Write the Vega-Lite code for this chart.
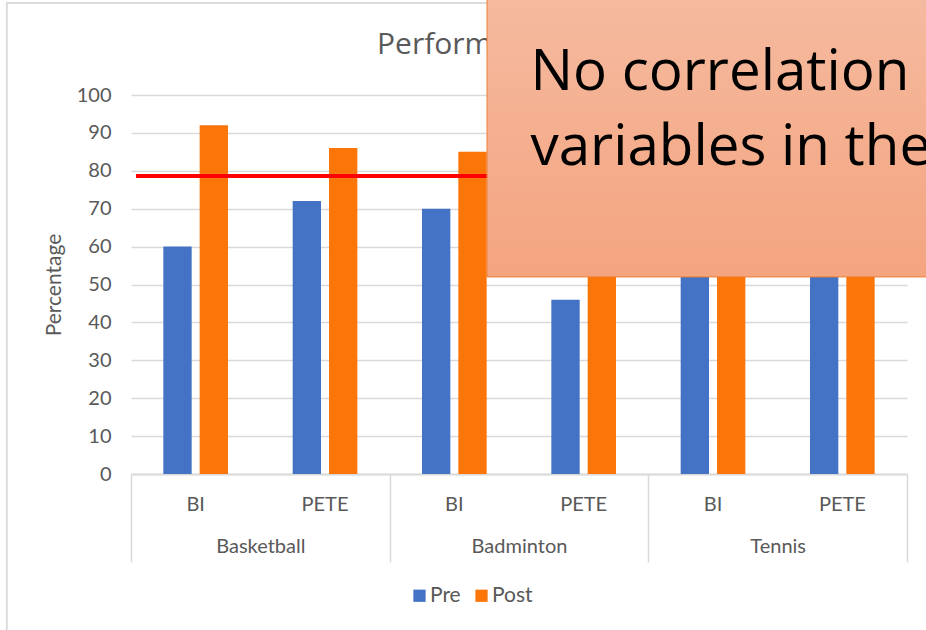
{
  "$schema": "https://vega.github.io/schema/vega-lite/v6.json",
  "autosize": {"type": "none"},
  "padding": {"left": 131, "right": 19, "top": 95, "bottom": 156},
  "width": 776,
  "height": 379,
  "background": "white",
  "config": {
    "font": "Lato",
    "view": {"stroke": null},
    "axis": {"labelFont": "Lato", "titleFont": "Lato", "labelColor": "#595959", "titleColor": "#595959"}
  },
  "datasets": {
    "scores": [
      {"Sport": "Basketball", "Group": "BI", "Key": "Basketball BI", "Phase": "Pre", "Value": 60},
      {"Sport": "Basketball", "Group": "BI", "Key": "Basketball BI", "Phase": "Post", "Value": 92},
      {"Sport": "Basketball", "Group": "PETE", "Key": "Basketball PETE", "Phase": "Pre", "Value": 72},
      {"Sport": "Basketball", "Group": "PETE", "Key": "Basketball PETE", "Phase": "Post", "Value": 86},
      {"Sport": "Badminton", "Group": "BI", "Key": "Badminton BI", "Phase": "Pre", "Value": 70},
      {"Sport": "Badminton", "Group": "BI", "Key": "Badminton BI", "Phase": "Post", "Value": 85},
      {"Sport": "Badminton", "Group": "PETE", "Key": "Badminton PETE", "Phase": "Pre", "Value": 46},
      {"Sport": "Badminton", "Group": "PETE", "Key": "Badminton PETE", "Phase": "Post", "Value": 80},
      {"Sport": "Tennis", "Group": "BI", "Key": "Tennis BI", "Phase": "Pre", "Value": 65},
      {"Sport": "Tennis", "Group": "BI", "Key": "Tennis BI", "Phase": "Post", "Value": 88},
      {"Sport": "Tennis", "Group": "PETE", "Key": "Tennis PETE", "Phase": "Pre", "Value": 62},
      {"Sport": "Tennis", "Group": "PETE", "Key": "Tennis PETE", "Phase": "Post", "Value": 84}
    ],
    "heading": [
      {"Heading": "Performance"}
    ],
    "note": [
      {"Note": "No correlation among\nvariables in the study"}
    ]
  },
  "resolve": {"scale": {"x": "independent"}, "axis": {"x": "independent"}},
  "layer": [
    {
      "data": {"name": "scores"},
      "mark": {"type": "bar"},
      "encoding": {
        "x": {
          "field": "Key", "type": "nominal",
          "sort": ["Basketball BI", "Basketball PETE", "Badminton BI", "Badminton PETE", "Tennis BI", "Tennis PETE"],
          "scale": {"paddingInner": 0.5, "paddingOuter": 0.25},
          "axis": {
            "orient": "bottom", "title": null, "ticks": false, "domain": true,
            "domainColor": "#D9D9D9", "domainWidth": 1.5,
            "labelExpr": "split(datum.label, ' ')[1]",
            "labelAngle": 0, "labelFontSize": 20, "labelPadding": 20
          }
        },
        "xOffset": {"field": "Phase", "type": "nominal", "sort": ["Pre", "Post"], "scale": {"paddingInner": 0.22, "paddingOuter": 0}},
        "y": {
          "field": "Value", "type": "quantitative",
          "scale": {"domain": [0, 100]},
          "axis": {
            "title": "Percentage", "titleFontSize": 21, "titleFontWeight": "normal", "titlePadding": 12,
            "values": [0, 10, 20, 30, 40, 50, 60, 70, 80, 90, 100], "tickCount": 11,
            "labelFontSize": 20, "labelPadding": 20, "ticks": false, "domain": false,
            "grid": true, "gridColor": "#D9D9D9", "gridWidth": 1.5
          }
        },
        "color": {
          "field": "Phase", "type": "nominal", "sort": ["Pre", "Post"],
          "scale": {"domain": ["Pre", "Post"], "range": ["#4472C4", "#FB7508"]},
          "legend": {
            "title": null, "orient": "none", "legendX": 278, "legendY": 490,
            "direction": "horizontal", "symbolType": "square", "symbolSize": 150,
            "symbolStrokeWidth": 0, "labelFontSize": 21, "labelColor": "#595959",
            "labelFont": "Lato", "labelOffset": 0, "columnPadding": 10, "padding": 0
          }
        }
      }
    },
    {
      "data": {"values": [{}]},
      "mark": {"type": "rect", "fill": null, "stroke": "#DCDCDC", "strokeWidth": 2},
      "encoding": {
        "x": {"datum": -0.16, "type": "quantitative", "scale": {"domain": [0, 1]}, "axis": null},
        "x2": {"datum": 2},
        "y": {"datum": 124.3, "type": "quantitative", "scale": {"domain": [0, 100]}},
        "y2": {"datum": -80}
      }
    },
    {
      "data": {"name": "scores"},
      "mark": {"type": "point", "opacity": 0},
      "encoding": {
        "x": {
          "field": "Sport", "type": "nominal",
          "sort": ["Basketball", "Badminton", "Tennis"],
          "scale": {"paddingInner": 0, "paddingOuter": 0},
          "axis": {
            "orient": "bottom", "title": null, "ticks": true, "tickBand": "extent",
            "tickSize": 88, "tickColor": "#D9D9D9", "tickWidth": 1.5,
            "domain": true, "domainColor": "#D9D9D9", "domainWidth": 1.5,
            "labelAngle": 0, "labelFontSize": 20, "labelPadding": -26
          }
        }
      }
    },
    {
      "data": {"name": "heading"},
      "mark": {"type": "text", "align": "left", "baseline": "alphabetic", "fontSize": 30, "font": "Open Sans", "color": "#595959"},
      "encoding": {
        "x": {"datum": 0.317, "type": "quantitative", "scale": {"domain": [0, 1]}, "axis": null},
        "y": {"datum": 110.8, "type": "quantitative", "scale": {"domain": [0, 100]}},
        "text": {"field": "Heading", "type": "nominal"}
      }
    },
    {
      "data": {"values": [{}]},
      "mark": {"type": "rule", "color": "#FF0000", "strokeWidth": 4},
      "encoding": {
        "x": {"datum": 0.0064, "type": "quantitative", "scale": {"domain": [0, 1]}, "axis": null},
        "x2": {"datum": 0.97},
        "y": {"datum": 78.6, "type": "quantitative", "scale": {"domain": [0, 100]}}
      }
    },
    {
      "data": {"values": [{}]},
      "mark": {
        "type": "rect",
        "fill": {"gradient": "linear", "x1": 0, "y1": 0, "x2": 0, "y2": 1,
          "stops": [{"offset": 0, "color": "#F5BA9F"}, {"offset": 1, "color": "#F4A47F"}]},
        "stroke": "#ED7D31", "strokeWidth": 1
      },
      "encoding": {
        "x": {"datum": 0.4588, "type": "quantitative", "scale": {"domain": [0, 1]}, "axis": null},
        "x2": {"datum": 1.2},
        "y": {"datum": 52.0, "type": "quantitative", "scale": {"domain": [0, 100]}},
        "y2": {"datum": 126}
      }
    },
    {
      "data": {"name": "note"},
      "mark": {"type": "text", "align": "left", "baseline": "alphabetic", "fontSize": 56.5, "font": "Open Sans", "color": "#000000", "lineBreak": "\n", "lineHeight": 75},
      "encoding": {
        "x": {"datum": 0.5148, "type": "quantitative", "scale": {"domain": [0, 1]}, "axis": null},
        "y": {"datum": 101.3, "type": "quantitative", "scale": {"domain": [0, 100]}},
        "text": {"field": "Note", "type": "nominal"}
      }
    }
  ]
}
